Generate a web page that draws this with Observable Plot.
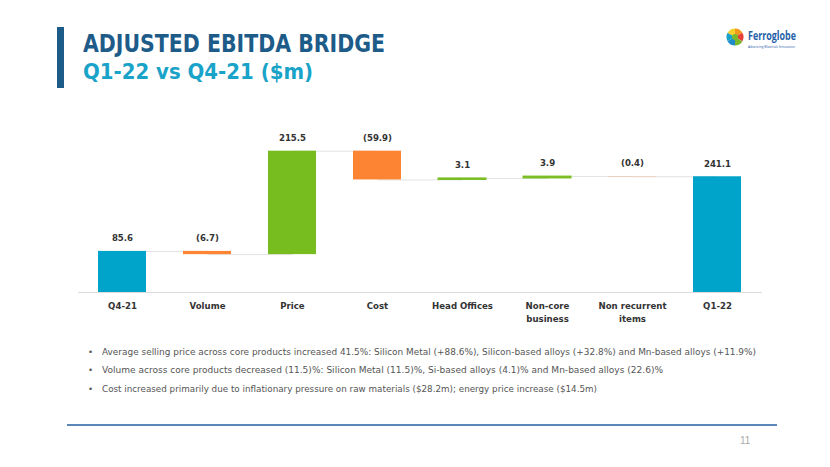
<!DOCTYPE html>
<html>
<head>
<meta charset="utf-8">
<script src="https://cdn.jsdelivr.net/npm/d3@7"></script>
<script src="https://cdn.jsdelivr.net/npm/@observablehq/plot@0.6"></script>
<style>
  html, body { margin: 0; padding: 0; background: #fff; }
  #page { position: relative; width: 830px; height: 467px; overflow: hidden; font-family: "DejaVu Sans", sans-serif; }
  .abs { position: absolute; white-space: nowrap; }
  .fit { display: inline-block; transform-origin: left center; }
  #bar { left: 57px; top: 27px; width: 7px; height: 61px; background: #1d5b89; }
  #title { left: 83px; top: 30px; font-size: 24px; font-weight: bold; color: #1d5b89; line-height: 28px; }
  #subtitle { left: 83px; top: 59px; font-size: 21px; font-weight: bold; color: #1aa3c8; line-height: 26px; }
  #chart { left: 0; top: 120px; }
  .bullet { left: 88px; font-size: 8.6px; color: #555; line-height: 12px; }
  .bullet .dot { position: absolute; left: 0; }
  .bullet .txt { position: absolute; left: 14px; }
  #footer { left: 67px; top: 424px; width: 710px; height: 1.5px; background: #5a86b8; }
  #pnum { left: 740px; top: 435px; font-size: 10px; color: #aaa; font-family: "Liberation Sans", sans-serif; }
  #brand { left: 748px; top: 28px; font-size: 13px; line-height: 14px; font-weight: bold; color: #1f61a8; font-family: "Open Sans", sans-serif; }
  #tag { left: 748px; top: 44px; font-size: 3.6px; line-height: 5px; color: #1f61a8; font-family: "Open Sans", sans-serif; }
</style>
</head>
<body>
<div id="page">
  <div id="bar" class="abs"></div>
  <div id="title" class="abs"><span class="fit" data-w="302">ADJUSTED EBITDA BRIDGE</span></div>
  <div id="subtitle" class="abs"><span class="fit" data-w="230">Q1-22 vs Q4-21 ($m)</span></div>

  <svg class="abs" style="left:726px;top:28px" width="18" height="18" viewBox="-9 -9 18 18">
    <path d="M0,0 L0,-8.5 A8.5,8.5 0 0,1 7.4,-4.2 Z" fill="#f39a1e"/>
    <path d="M0,0 L7.4,-4.2 A8.5,8.5 0 0,1 7.4,4.2 Z" fill="#e8413c"/>
    <path d="M0,0 L7.4,4.2 A8.5,8.5 0 0,1 0,8.5 Z" fill="#7ab929"/>
    <path d="M0,0 L0,8.5 A8.5,8.5 0 0,1 -7.4,4.2 Z" fill="#1f8ac9"/>
    <path d="M0,0 L-7.4,4.2 A8.5,8.5 0 0,1 -7.4,-4.2 Z" fill="#1aa3c8"/>
    <path d="M0,0 L-7.4,-4.2 A8.5,8.5 0 0,1 0,-8.5 Z" fill="#f6cf2a"/>
    <circle r="3" fill="#7ab929"/>
  </svg>
  <div id="brand" class="abs"><span class="fit" data-w="48">Ferroglobe</span></div>
  <div id="tag" class="abs"><span class="fit" data-w="47">Advancing Materials Innovation</span></div>

  <div id="chart" class="abs"></div>

  <div class="abs bullet" style="top:346px"><span class="dot">•</span><span class="txt fit" data-w="654">Average selling price across core products increased 41.5%: Silicon Metal (+88.6%), Silicon-based alloys (+32.8%) and Mn-based alloys (+11.9%)</span></div>
  <div class="abs bullet" style="top:364px"><span class="dot">•</span><span class="txt fit" data-w="561">Volume across core products decreased (11.5)%: Silicon Metal (11.5)%, Si-based alloys (4.1)% and Mn-based alloys (22.6)%</span></div>
  <div class="abs bullet" style="top:383px"><span class="dot">•</span><span class="txt fit" data-w="495">Cost increased primarily due to inflationary pressure on raw materials ($28.2m); energy price increase ($14.5m)</span></div>

  <div id="footer" class="abs"></div>
  <div id="pnum" class="abs">11</div>
</div>
<script>
const categories = ["Q4-21", "Volume", "Price", "Cost", "Head Offices", "Non-core\nbusiness", "Non recurrent\nitems", "Q1-22"];
const values = [85.6, -6.7, 215.5, -59.9, 3.1, 3.9, -0.4, 241.1];
const valueLabels = ["85.6", "(6.7)", "215.5", "(59.9)", "3.1", "3.9", "(0.4)", "241.1"];
const kinds = ["total", "delta", "delta", "delta", "delta", "delta", "delta", "total"];

const colors = { total: "#00a3c9", up: "#78bd20", down: "#fd8433" };

// build waterfall rows
let running = 0;
const rows = categories.map((c, i) => {
  let y1, y2, type;
  if (kinds[i] === "total") {
    y1 = 0; y2 = values[i]; running = values[i]; type = "total";
  } else {
    y1 = running; y2 = running + values[i]; running = y2; type = values[i] >= 0 ? "up" : "down";
  }
  return { cat: c, y1, y2, top: Math.max(y1, y2), end: running, type, label: valueLabels[i] };
});
const links = rows.slice(0, -1).map((r, i) => ({ a: r.cat, b: rows[i + 1].cat, y: r.end }));

const W = 830, H = 215;
const chart = Plot.plot({
  width: W,
  height: H,
  marginLeft: 78,
  marginRight: 68,
  marginTop: 28,
  marginBottom: 43,
  x: { domain: categories, paddingInner: 0.43, paddingOuter: 0.215, axis: null },
  y: { domain: [0, 300], axis: null },
  style: { fontFamily: "DejaVu Sans, sans-serif", background: "transparent" },
  marks: [
    Plot.link(links, { x1: "a", x2: "b", y1: "y", y2: "y", stroke: "#e2e2e2", strokeWidth: 1 }),
    Plot.ruleY([0], { stroke: "#dcdcdc", strokeWidth: 1 }),
    Plot.rectY(rows, { x: "cat", y1: "y1", y2: "y2", fill: (d) => colors[d.type] }),
    Plot.rectY(rows.filter(d => Math.abs(d.y2 - d.y1) >= 1 && Math.abs(d.y2 - d.y1) < 4), { x: "cat", y1: "y1", y2: "y2", stroke: (d) => colors[d.type], strokeWidth: 1 }),
    Plot.text(rows, { x: "cat", y: "top", text: "label", dy: -13, fontWeight: "bold", fontSize: 8.6, fill: "#333" }),
    Plot.text(rows, { x: "cat", y: 0, text: "cat", dy: 8, lineAnchor: "top", lineHeight: 1.45, fontWeight: "bold", fontSize: 8.6, fill: "#333" })
  ]
});
document.getElementById("chart").appendChild(chart);

// fit text widths to the reference layout
document.querySelectorAll(".fit").forEach(el => {
  const target = +el.dataset.w;
  const w = el.getBoundingClientRect().width;
  if (w > 0) el.style.transform = `scaleX(${target / w})`;
});
</script>
</body>
</html>
